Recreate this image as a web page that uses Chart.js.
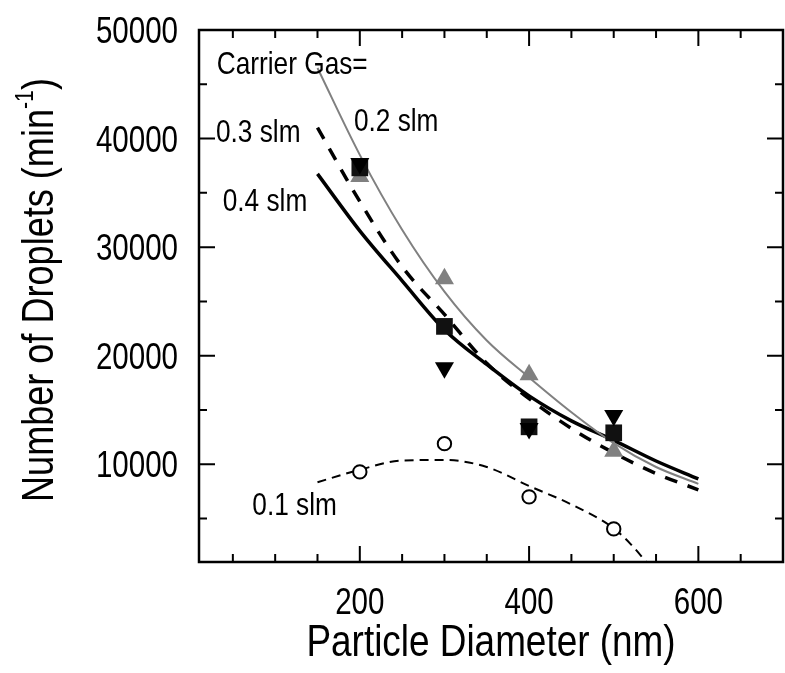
<!DOCTYPE html>
<html lang="en">
<head>
<meta charset="UTF-8">
<title>Number of Droplets vs Particle Diameter</title>
<style>
  body { margin: 0; background: #fff; }
  #wrap { width: 785px; height: 673px; }
</style>
</head>
<body>
<div id="wrap"><canvas id="dropletChart"></canvas></div>
<script src="https://cdn.jsdelivr.net/npm/chart.js"></script>
<script>
// measured points, particle diameter in nm
const diameters = [200, 300, 400, 500];
const gas02 = [36500, 27100, 18250, 11200];   // grey up triangles
const gas03 = [37300, 22700, 13450, 12900];   // black squares
const gas04 = [37700, 18900, 13300, 14500];   // black down triangles
const gas01 = [9300, 11900, 7000, 4050];      // open circles

// fitted curves
const fitX = [150, 200, 250, 300, 350, 400, 450, 500, 550, 600];
const fit02 = [46500, 38500, 31600, 25900, 21400, 18000, 14800, 11950, 9750, 8200];
const fit03 = [41000, 34200, 28200, 23800, 19300, 16050, 13300, 11050, 9150, 7650];
const fit04 = [36750, 31500, 26900, 22400, 19200, 16300, 14000, 12200, 10300, 8650];
const fit01X = [150, 200, 250, 300, 350, 400, 450, 500, 520, 540, 560];
const fit01 = [8350, 9500, 10350, 10400, 9750, 8000, 6300, 4100, 2650, 850, -1000];

// axis ticks
const xLabels = [200, 400, 600];
const xMarks = [50, 100, 150, 200, 250, 300, 350, 400, 450, 500, 550, 600, 650];
const yLabels = [10000, 20000, 30000, 40000, 50000];
const yMarks = [5000, 10000, 15000, 20000, 25000, 30000, 35000, 40000, 45000];

// text notes (anchored in data units: left edge, baseline)
const noteText = ['Carrier Gas=', '0.2 slm', '0.3 slm', '0.4 slm', '0.1 slm'];
const noteX = [31, 193, 30, 38, 73];
const noteY = [45950, 40720, 39650, 33330, 5330];

const FONT = "'Liberation Sans', Arial, sans-serif";
const NARROW = 0.82;   // the figure uses a narrow sans face
const GREY = '#808080';

function pts(xs, ys) {
    return xs.map((x, i) => ({ x: x, y: ys[i] }));
}

// narrow text: squeeze horizontally, align by hand
function narrowText(ctx, text, x, y, size, align) {
    ctx.save();
    ctx.font = size + 'px ' + FONT;
    ctx.textAlign = 'left';
    ctx.textBaseline = 'alphabetic';
    const w = ctx.measureText(text).width * NARROW;
    let left = x;
    if (align === 'center') left = x - w / 2;
    if (align === 'right') left = x - w;
    ctx.translate(left, y);
    ctx.scale(NARROW, 1);
    ctx.fillText(text, 0, 0);
    ctx.restore();
    return w;
}

// box, inward ticks, labels, notes and axis titles
const framePlugin = {
    id: 'framePlugin',
    afterDatasetsDraw(chart) {
        const { ctx, chartArea: a, scales } = chart;
        const x = scales.x, y = scales.y;
        ctx.save();
        ctx.strokeStyle = '#000';
        ctx.lineWidth = 2;
        ctx.beginPath();
        xMarks.forEach(v => {
            const px = x.getPixelForValue(v);
            const len = xLabels.includes(v) ? 16 : 8;
            ctx.moveTo(px, a.bottom); ctx.lineTo(px, a.bottom - len);
            ctx.moveTo(px, a.top); ctx.lineTo(px, a.top + len);
        });
        yMarks.forEach(v => {
            const py = y.getPixelForValue(v);
            const len = yLabels.includes(v) ? 16 : 8;
            ctx.moveTo(a.left, py); ctx.lineTo(a.left + len, py);
            ctx.moveTo(a.right, py); ctx.lineTo(a.right - len, py);
        });
        ctx.stroke();
        ctx.lineWidth = 2.5;
        ctx.strokeRect(a.left, a.top, a.right - a.left, a.bottom - a.top);

        ctx.fillStyle = '#000';
        xLabels.forEach(v => narrowText(ctx, String(v), x.getPixelForValue(v), a.bottom + 52, 36, 'center'));
        yLabels.forEach(v => narrowText(ctx, String(v), a.left - 21, y.getPixelForValue(v) + 13, 36, 'right'));

        noteText.forEach((t, i) => {
            narrowText(ctx, t, x.getPixelForValue(noteX[i]), y.getPixelForValue(noteY[i]), 32, 'left');
        });

        // x title
        narrowText(ctx, 'Particle Diameter (nm)', (a.left + a.right) / 2, 656, 45, 'center');

        // y title with superscript
        ctx.translate(53, 290);
        ctx.rotate(-Math.PI / 2);
        ctx.font = '44px ' + FONT;
        const w1 = ctx.measureText('Number of Droplets (min').width * NARROW;
        const w3 = ctx.measureText(')').width * NARROW;
        ctx.font = '26px ' + FONT;
        const w2 = ctx.measureText('-1').width * NARROW;
        const sx = -(w1 + w2 + w3) / 2;
        narrowText(ctx, 'Number of Droplets (min', sx, 0, 44, 'left');
        narrowText(ctx, '-1', sx + w1, -20, 26, 'left');
        narrowText(ctx, ')', sx + w1 + w2, 0, 44, 'left');
        ctx.restore();
    }
};

const markerBase = { showLine: false, borderWidth: 0 };
const curveBase = { showLine: true, pointRadius: 0, fill: false, cubicInterpolationMode: 'monotone' };

function fixScale(s, w, h) {
    if (w !== null) s.width = w;
    if (h !== null) s.height = h;
    s.paddingTop = 0; s.paddingBottom = 0; s.paddingLeft = 0; s.paddingRight = 0;
}

new Chart(document.getElementById('dropletChart'), {
    type: 'scatter',
    data: {
        datasets: [
            Object.assign({ label: '0.4 slm', data: pts(diameters, gas04), pointStyle: 'triangle', rotation: 180,
                pointRadius: 11, backgroundColor: '#000' }, markerBase),
            Object.assign({ label: '0.3 slm', data: pts(diameters, gas03), pointStyle: 'rect',
                pointRadius: 11.8, backgroundColor: '#111' }, markerBase),
            Object.assign({ label: '0.2 slm', data: pts(diameters, gas02), pointStyle: 'triangle',
                pointRadius: 11, backgroundColor: GREY }, markerBase),
            { label: '0.1 slm', data: pts(diameters, gas01), showLine: false, pointStyle: 'circle',
                pointRadius: 6.7, borderWidth: 2, borderColor: '#000', backgroundColor: '#fff' },
            Object.assign({ label: 'fit 0.2', data: pts(fitX, fit02), borderColor: GREY, borderWidth: 2 }, curveBase),
            Object.assign({ label: 'fit 0.3', data: pts(fitX, fit03), borderColor: '#000', borderWidth: 3.5,
                borderDash: [13, 11] }, curveBase),
            Object.assign({ label: 'fit 0.4', data: pts(fitX, fit04), borderColor: '#000', borderWidth: 3.5 }, curveBase),
            Object.assign({ label: 'fit 0.1', data: pts(fit01X, fit01), borderColor: '#000', borderWidth: 2,
                borderDash: [9, 6] }, curveBase)
        ]
    },
    options: {
        responsive: true,
        maintainAspectRatio: false,
        animation: false,
        layout: { autoPadding: false, padding: { top: 30, right: 2, left: 0, bottom: 0 } },
        plugins: { legend: { display: false }, tooltip: { enabled: false } },
        scales: {
            x: {
                type: 'linear',
                min: 10,
                max: 700,
                grid: { display: false, drawTicks: false },
                border: { display: false },
                ticks: { display: false },
                afterFit: s => fixScale(s, null, 111)
            },
            y: {
                type: 'linear',
                min: 1000,
                max: 50000,
                grid: { display: false, drawTicks: false },
                border: { display: false },
                ticks: { display: false },
                afterFit: s => fixScale(s, 199, null)
            }
        }
    },
    plugins: [framePlugin]
});
</script>
</body>
</html>
